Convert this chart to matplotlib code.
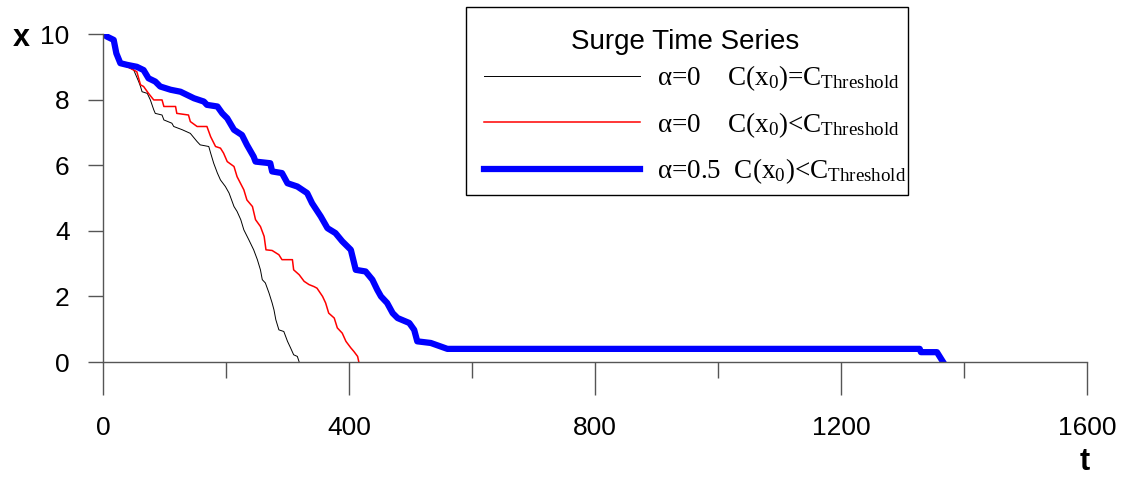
import numpy as np
import matplotlib.pyplot as plt
from matplotlib.patches import Rectangle

plt.rcParams['font.family'] = ['Liberation Sans', 'DejaVu Sans']
plt.rcParams['mathtext.fontset'] = 'custom'
plt.rcParams['mathtext.rm'] = 'Liberation Serif'
plt.rcParams['mathtext.it'] = 'Liberation Serif:italic'

# alpha=0, C(x0)=C_Threshold  (thin black)
t_black = [0, 6.5, 17.4, 25.5, 33.6, 50, 58, 61, 63.5, 72, 77, 82.5, 85, 96, 99, 112, 115,
           129, 142, 153, 158, 172, 175, 180, 186, 191, 199, 205, 213, 218, 224, 229, 237,
           245, 251, 256, 259, 264, 270, 275, 278, 281, 286, 294, 300, 305, 310, 316, 319]
x_black = [10, 9.87, 9.8, 9.16, 9.06, 8.9, 8.55, 8.4, 8.24, 8.19, 7.99, 7.69, 7.58, 7.53, 7.38,
           7.28, 7.18, 7.08, 6.97, 6.72, 6.62, 6.57, 6.37, 6.06, 5.76, 5.55, 5.35, 5.15, 4.74,
           4.59, 4.34, 4.03, 3.73, 3.42, 3.12, 2.81, 2.51, 2.41, 2.1, 1.8, 1.59, 1.29, 0.98,
           0.93, 0.63, 0.43, 0.22, 0.17, 0.0]

# alpha=0, C(x0)<C_Threshold  (red)
t_red = [0, 6.5, 17.4, 25.5, 33.6, 50, 55, 61, 66, 74, 82.5, 96, 99, 118, 120, 139, 142, 153,
         169, 175, 183, 191, 196, 202, 213, 218, 229, 234, 243, 248, 256, 262, 265, 275, 286,
         291, 308, 310, 319, 327, 335, 343, 348, 357, 362, 367, 376, 381, 389, 395, 403, 408,
         414, 416]
x_red = [10, 9.87, 9.8, 9.16, 9.06, 8.9, 8.85, 8.45, 8.4, 8.19, 7.99, 7.99, 7.79, 7.79, 7.58,
         7.53, 7.33, 7.18, 7.18, 6.87, 6.57, 6.52, 6.37, 6.11, 5.96, 5.65, 5.25, 4.94, 4.74,
         4.34, 4.13, 3.83, 3.42, 3.4, 3.27, 3.12, 3.12, 2.81, 2.66, 2.46, 2.36, 2.3, 2.25, 2.0,
         1.8, 1.49, 1.34, 1.04, 0.88, 0.63, 0.43, 0.32, 0.17, 0.0]

# alpha=0.5, C(x0)<C_Threshold  (thick blue)
t_blue = [0, 6.5, 17.4, 21.7, 28.2, 39, 55, 66, 74, 85, 93, 110, 126, 137, 148, 164, 169, 186,
          194, 202, 213, 226, 234, 245, 248, 272, 275, 291, 300, 316, 332, 340, 354, 365, 378,
          389, 403, 411, 427, 438, 446, 452, 462, 471, 479, 498, 506, 511, 533, 560, 1328,
          1330, 1356, 1366]
x_blue = [10, 9.92, 9.82, 9.41, 9.11, 9.06, 9.0, 8.9, 8.65, 8.55, 8.4, 8.3, 8.24, 8.14, 8.04,
          7.94, 7.84, 7.79, 7.58, 7.43, 7.08, 6.92, 6.62, 6.26, 6.11, 6.06, 5.81, 5.76, 5.45,
          5.35, 5.15, 4.84, 4.44, 4.08, 3.93, 3.68, 3.42, 2.81, 2.76, 2.51, 2.2, 2.0, 1.8, 1.49,
          1.34, 1.19, 0.98, 0.63, 0.58, 0.4, 0.4, 0.3, 0.3, 0.0]

labels = [r'α=0    C(x$_{\mathrm{0}}$)=C$_{\mathrm{Threshold}}$',
          r'α=0    C(x$_{\mathrm{0}}$)<C$_{\mathrm{Threshold}}$',
          r'α=0.5  C(x$_{\mathrm{0}}$)<C$_{\mathrm{Threshold}}$']

W, H = 1128, 483
fig = plt.figure(figsize=(W / 100, H / 100), dpi=100)
ax = fig.add_axes([103 / W, 1 - 362 / H, (1087 - 103) / W, (362 - 34) / H])

ax.plot(t_black, x_black, color='black', lw=0.7, label=labels[0])
ax.plot(t_red, x_red, color='red', lw=1.1, label=labels[1])
ax.plot(t_blue, x_blue, color='blue', lw=4.5, label=labels[2])

ax.set_xlim(0, 1600)
ax.set_ylim(0, 10)
for s in ['top', 'right']:
    ax.spines[s].set_visible(False)
for s in ['left', 'bottom']:
    ax.spines[s].set_color('#555555')
    ax.spines[s].set_linewidth(1)

ax.set_xticks(np.arange(0, 1601, 400))
ax.set_xticks(np.arange(200, 1601, 400), minor=True)
ax.set_yticks(np.arange(0, 11, 2))
ax.tick_params(axis='x', which='major', length=24, width=1, color='#555555',
               labelsize=19, pad=15)
ax.tick_params(axis='x', which='minor', length=11.5, width=1, color='#555555')
ax.tick_params(axis='y', length=11, width=1, color='#555555', labelsize=19, pad=13)

fig.text(21 / W, 1 - 38 / H, 'x', fontsize=22, fontweight='bold', ha='center', va='center')
fig.text(1085 / W, 1 - 462 / H, 't', fontsize=22, fontweight='bold', ha='center', va='center')

# legend box drawn separately so its height can match the reference
box = Rectangle((466 / W, 1 - 195 / H), (908 - 466) / W, (195 - 7) / H,
                transform=fig.transFigure, facecolor='white', edgecolor='black',
                linewidth=1, zorder=4.9, clip_on=False)
ax.add_patch(box)

leg = ax.legend(loc='upper left',
                bbox_to_anchor=(464 / W, 1 - 9 / H, (906 - 464) / W, 0.0),
                bbox_transform=fig.transFigure, mode='expand',
                title='Surge Time Series', title_fontsize=20,
                prop={'family': 'Liberation Serif', 'size': 19.5},
                frameon=False,
                handlelength=5.75, handletextpad=0.63, labelspacing=0.62,
                borderpad=0.75, borderaxespad=0)
leg._legend_box.sep = 5.9

fig.savefig('out.png', dpi=100)
